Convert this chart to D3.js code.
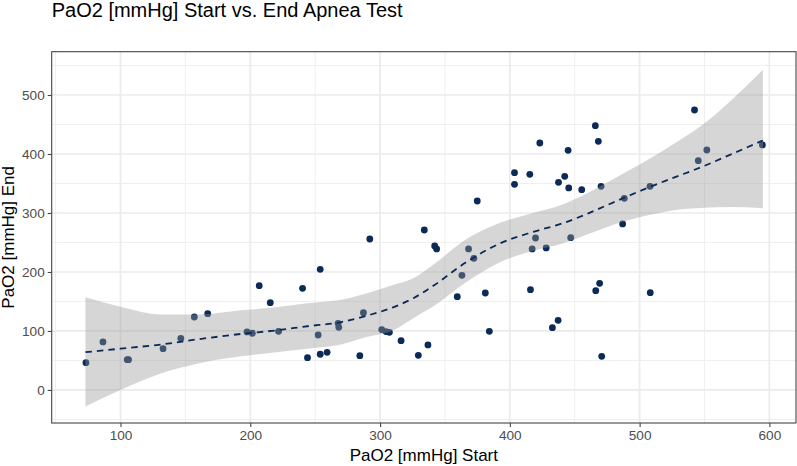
<!DOCTYPE html>
<html>
<head>
<meta charset="utf-8">
<script src="https://cdn.jsdelivr.net/npm/d3@7"></script>
<style>
  html, body { margin: 0; padding: 0; background: #ffffff; }
  svg { display: block; font-family: "Liberation Sans", Arial, sans-serif; }
</style>
</head>
<body>
<svg id="chart" width="797" height="466"></svg>
<script>
// ---- data ----
const startPaO2 = [73.4, 86.5, 105.2, 106.2, 132.8, 146.5, 156.9, 167.2, 197.5, 201.6,
  206.9, 215.4, 221.8, 240.3, 244.1, 253.9, 252.3, 253.9, 259.2, 267.7,
  268.2, 284.4, 287.2, 292.1, 301.3, 304.6, 307.2, 316.2, 329.5, 336.9,
  334.1, 342.1, 343.6, 359.5, 363.1, 368.2, 372.3, 374.9, 381.1, 384.2,
  403.6, 403.6, 415.4, 423.1, 419.8, 417.2, 428.0, 415.9, 437.5, 437.2,
  432.8, 442.3, 445.4, 444.9, 446.9, 455.4, 465.9, 468.2, 466.2, 469.2,
  470.3, 470.8, 486.9, 488.2, 508.0, 508.2, 542.3, 545.2, 551.8, 594.6];
const endPaO2 = [46.3, 81.4, 51.4, 51.4, 70.0, 87.6, 123.7, 129.3, 98.3, 96.1,
  176.8, 148.0, 99.4, 172.3, 54.8, 204.5, 93.2, 60.5, 63.8, 113.0,
  106.2, 58.2, 131.0, 255.9, 102.3, 99.0, 97.7, 83.6, 58.8, 76.3,
  271.2, 244.0, 239.0, 158.2, 194.4, 239.0, 223.2, 320.3, 164.4, 99.4,
  368.4, 348.6, 365.5, 418.6, 257.6, 239.0, 240.7, 170.0, 352.0, 118.1,
  105.6, 362.2, 342.4, 406.3, 258.2, 339.5, 448.0, 421.5, 168.3, 180.8,
  345.2, 57.1, 281.4, 324.9, 345.2, 165.0, 474.6, 388.6, 406.8, 415.3];

// smoother (loess fit with 95% CI)
const smoothX     = [73, 100, 131, 160, 193, 220, 244, 270, 290, 310, 326, 342, 366, 392, 418, 440, 460, 485, 510, 524, 550, 570, 595];
const smoothFit   = [64, 70, 77, 86, 95, 101, 108, 115, 126, 140, 156, 178, 216, 248, 268, 282, 299, 323, 346, 358, 380, 399, 423];
const smoothUpper = [157, 141, 128, 128, 135, 140, 147, 153, 164, 178, 190, 214, 255, 283, 300, 314, 334, 364, 395, 414, 452, 490, 543];
const smoothLower = [-28, 0, 28, 45, 57, 64, 70, 77, 90, 101, 122, 143, 182, 216, 236, 248, 264, 284, 298, 304, 309, 310, 308];

const xTicks = [100, 200, 300, 400, 500, 600];
const xMinor = [50, 150, 250, 350, 450, 550];
const yTicks = [0, 100, 200, 300, 400, 500];
const yMinor = [-50, 50, 150, 250, 350, 450, 550];

const titleText = "PaO2 [mmHg] Start vs. End Apnea Test";
const xLabel = "PaO2 [mmHg] Start";
const yLabel = "PaO2 [mmHg] End";

// ---- layout ----
const svg = d3.select("#chart");
const panel = { left: 51.7, right: 796, top: 51.7, bottom: 423 };
const x = d3.scaleLinear().domain([47.0, 620.5]).range([panel.left, panel.right]);
const y = d3.scaleLinear().domain([-56.0, 573.4]).range([panel.bottom, panel.top]);

const navy = "#0b2a57";

// grid
const g = svg.append("g");
g.selectAll(".xminor").data(xMinor).join("line")
  .attr("x1", d => x(d)).attr("x2", d => x(d))
  .attr("y1", panel.top).attr("y2", panel.bottom)
  .attr("stroke", "#ededed").attr("stroke-width", 0.9);
g.selectAll(".yminor").data(yMinor).join("line")
  .attr("y1", d => y(d)).attr("y2", d => y(d))
  .attr("x1", panel.left).attr("x2", panel.right)
  .attr("stroke", "#ededed").attr("stroke-width", 0.9);
g.selectAll(".xmajor").data(xTicks).join("line")
  .attr("x1", d => x(d)).attr("x2", d => x(d))
  .attr("y1", panel.top).attr("y2", panel.bottom)
  .attr("stroke", "#ebebeb").attr("stroke-width", 1.7);
g.selectAll(".ymajor").data(yTicks).join("line")
  .attr("y1", d => y(d)).attr("y2", d => y(d))
  .attr("x1", panel.left).attr("x2", panel.right)
  .attr("stroke", "#ebebeb").attr("stroke-width", 1.7);

// points
const pts = startPaO2.map((v, i) => ({ x: v, y: endPaO2[i] }));
svg.append("g").selectAll("circle").data(pts).join("circle")
  .attr("cx", d => x(d.x)).attr("cy", d => y(d.y))
  .attr("r", 3.4).attr("fill", navy);

// ribbon
const band = smoothX.map((v, i) => ({ x: v, fit: smoothFit[i], lo: smoothLower[i], hi: smoothUpper[i] }));
const curve = d3.curveMonotoneX;
svg.append("path").datum(band)
  .attr("d", d3.area().x(d => x(d.x)).y0(d => y(d.lo)).y1(d => y(d.hi)).curve(curve))
  .attr("fill", "#999999").attr("fill-opacity", 0.4);

svg.append("path").datum(band)
  .attr("d", d3.line().x(d => x(d.x)).y(d => y(d.fit)).curve(curve))
  .attr("fill", "none").attr("stroke", navy).attr("stroke-width", 1.8)
  .attr("stroke-dasharray", "6.5,5");

// panel border
svg.append("rect")
  .attr("x", panel.left).attr("y", panel.top)
  .attr("width", panel.right - panel.left).attr("height", panel.bottom - panel.top)
  .attr("fill", "none").attr("stroke", "#444444").attr("stroke-width", 1.1);

// axes
const xAxis = d3.axisBottom(x).tickValues(xTicks).tickSize(4).tickPadding(3).tickFormat(d3.format("d"));
const yAxis = d3.axisLeft(y).tickValues(yTicks).tickSize(4).tickPadding(3).tickFormat(d3.format("d"));
const gx = svg.append("g").attr("transform", `translate(0,${panel.bottom})`).call(xAxis);
const gy = svg.append("g").attr("transform", `translate(${panel.left},0)`).call(yAxis);
[gx, gy].forEach(ax => {
  ax.select(".domain").remove();
  ax.selectAll(".tick line").attr("stroke", "#444444").attr("stroke-width", 1.1);
  ax.selectAll(".tick text").attr("fill", "#4d4d4d")
    .style("font-size", "13.6px").style("font-family", "'Liberation Sans', Arial, sans-serif");
});

// titles
svg.append("text").attr("x", panel.left).attr("y", 17)
  .attr("fill", "#000").style("font-size", "20px").text(titleText);
svg.append("text").attr("x", (panel.left + panel.right) / 2).attr("y", 461)
  .attr("text-anchor", "middle").attr("fill", "#000").style("font-size", "17px").text(xLabel);
svg.append("text")
  .attr("transform", `translate(13.5,${(panel.top + panel.bottom) / 2}) rotate(-90)`)
  .attr("text-anchor", "middle").attr("fill", "#000").style("font-size", "17px").text(yLabel);
</script>
</body>
</html>
